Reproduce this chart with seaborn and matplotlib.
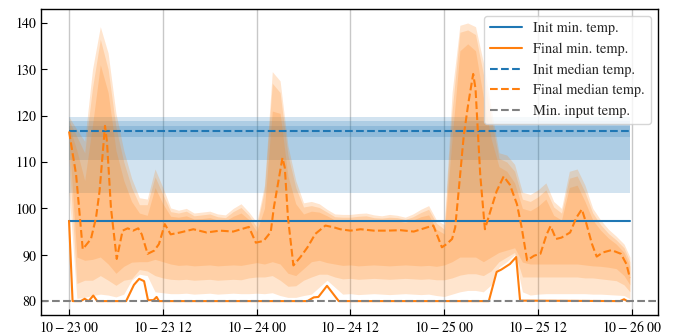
import numpy as np
import pandas as pd
import matplotlib
matplotlib.use("Agg")
import matplotlib.pyplot as plt
import matplotlib.dates as mdates
from matplotlib.ticker import FuncFormatter
import seaborn as sns

START = pd.Timestamp("2023-10-23 00:00")
END_HOUR = 71.75

# ---- initial (constant) statistics ----
init_min = 97.3
init_median = 116.7
init_bands = [(103.4, 119.7), (110.5, 118.9), (115.5, 117.8)]  # outer, middle, inner
min_input = 80.0

# ---- final quantile bands, hourly ----
band_hours = list(range(72)) + [END_HOUR]
outer_hi = [119.7, 117.0, 114.5, 130.0, 139.2, 133.5, 120.5, 112.5, 106.5, 102.3,
            102.0, 108.5, 104.5, 100.1, 99.6, 100.0, 99.0, 99.2, 99.4, 98.8,
            98.6, 100.0, 101.0, 99.2, 97.0, 105.0, 129.5, 127.5, 113.5, 106.0,
            101.2, 101.5, 101.0, 99.8, 98.8, 98.7, 98.7, 98.9, 99.0, 98.6,
            98.4, 98.7, 98.5, 98.1, 98.8, 99.8, 100.6, 97.5, 96.5, 125.0,
            139.5, 140.0, 139.2, 131.5, 121.5, 112.0, 111.5, 109.5, 103.5, 103.0,
            104.0, 105.5, 101.5, 100.0, 108.0, 108.5, 105.0, 100.0, 97.5, 95.5,
            94.0, 92.3, 89.5]
mid_hi = [118.9, 115.5, 112.0, 126.0, 136.5, 130.0, 117.5, 110.0, 104.5, 100.8,
          100.8, 106.8, 103.0, 99.3, 99.0, 99.4, 98.4, 98.6, 98.8, 98.2,
          98.0, 99.3, 100.2, 98.5, 96.0, 104.0, 127.0, 125.0, 111.5, 104.5,
          100.3, 100.6, 100.2, 99.2, 98.2, 98.1, 98.1, 98.3, 98.4, 98.0,
          97.9, 98.1, 98.0, 97.6, 98.2, 99.1, 99.8, 96.8, 95.5, 121.0,
          138.0, 138.5, 137.5, 129.0, 119.5, 110.8, 110.0, 108.0, 102.0, 101.5,
          102.5, 104.0, 100.3, 99.0, 106.5, 107.0, 103.5, 99.0, 96.5, 94.6,
          93.2, 91.5, 88.5]
in_hi = [117.8, 112.5, 106.0, 118.0, 131.0, 125.0, 112.5, 106.0, 101.5, 99.0,
         98.5, 104.5, 101.0, 98.3, 98.1, 98.4, 97.7, 97.8, 98.0, 97.5,
         97.3, 98.3, 99.0, 97.6, 95.0, 100.0, 121.0, 120.5, 107.0, 101.0,
         98.8, 99.4, 99.2, 98.4, 97.5, 97.4, 97.4, 97.6, 97.6, 97.3,
         97.2, 97.4, 97.3, 97.0, 97.5, 98.2, 98.6, 95.5, 94.5, 115.0,
         134.0, 135.5, 134.0, 124.0, 115.0, 109.0, 108.0, 105.5, 100.0, 99.5,
         100.5, 102.0, 98.5, 97.5, 104.5, 105.0, 101.5, 97.5, 95.3, 93.6,
         92.3, 90.5, 87.5]
in_lo = [115.5, 89.5, 88.8, 89.0, 89.5, 88.0, 86.0, 87.5, 88.4, 88.5,
         88.5, 89.0, 88.5, 88.0, 87.7, 87.8, 87.6, 87.7, 87.8, 87.6,
         87.7, 87.8, 87.7, 88.0, 88.3, 88.0, 88.5, 88.0, 86.0, 85.5,
         87.0, 88.5, 88.8, 88.3, 88.0, 87.7, 87.8, 87.6, 87.7, 87.8,
         87.7, 87.6, 87.7, 87.8, 87.7, 87.6, 87.7, 87.5, 87.8, 88.5,
         89.5, 89.5, 89.5, 88.5, 89.5, 90.5, 91.0, 91.5, 88.4, 88.0,
         88.0, 88.0, 88.0, 88.0, 88.0, 88.0, 87.8, 87.6, 87.5, 87.3,
         87.0, 85.5, 83.5]
mid_lo = [110.5, 83.8, 84.5, 84.5, 85.5, 84.5, 83.4, 84.5, 84.8, 86.8,
          86.5, 85.5, 85.0, 84.7, 84.6, 84.7, 84.5, 84.6, 84.7, 84.5,
          84.6, 84.7, 84.6, 85.0, 85.2, 85.2, 85.5, 84.5, 83.2, 83.3,
          84.5, 85.2, 85.8, 85.8, 85.2, 84.8, 84.9, 84.7, 84.8, 84.9,
          84.8, 84.7, 84.8, 84.9, 84.8, 84.7, 84.8, 84.6, 84.6, 85.0,
          85.6, 85.9, 85.9, 85.5, 86.5, 88.5, 89.5, 90.5, 85.2, 85.2,
          85.2, 85.2, 85.2, 85.2, 85.2, 85.2, 85.0, 85.0, 84.8, 84.6,
          84.4, 83.5, 82.0]
outer_lo = [103.4, 80.6, 80.8, 81.2, 81.5, 81.3, 80.9, 81.5, 84.5, 85.8,
            85.5, 82.0, 81.8, 81.6, 81.6, 81.7, 81.5, 81.6, 81.7, 81.5,
            81.6, 81.7, 81.6, 81.6, 81.7, 81.6, 81.8, 81.2, 80.8, 80.8,
            81.2, 81.5, 83.0, 84.5, 83.0, 81.5, 81.6, 81.4, 81.5, 81.6,
            81.5, 81.4, 81.5, 81.6, 81.5, 81.4, 81.5, 81.2, 81.0, 81.5,
            82.0, 82.3, 82.3, 82.0, 83.5, 87.3, 88.5, 90.0, 82.0, 81.3,
            81.5, 81.6, 81.6, 81.6, 81.6, 81.6, 81.6, 81.5, 81.5, 81.4,
            81.3, 81.2, 80.5]

# ---- final median temperature ----
median_hours = [0, 0.9, 1.75, 2.8, 3.45, 3.9, 4.6, 4.85, 5.36, 6.1, 6.85, 7.5, 8.2, 8.85,
                9.3, 10.05, 10.9, 11.5, 12.25, 13.0, 14.2, 15.9, 17.6, 19.3, 21.0, 23.0,
                23.9, 24.9, 25.8, 26.2, 27.3, 27.6, 28.0, 28.7, 29.6,
                30.5, 31.5, 32.8, 33.9, 34.7, 36.0, 37.3, 39.0, 40.7, 42.4, 44.1, 45.8,
                46.6, 47.7, 48.3, 49.0, 49.4, 49.8, 50.5, 51.1, 51.7, 52.0, 52.6, 53.2,
                53.9, 54.7, 55.6, 56.4, 57.3, 57.9, 58.6, 59.5, 60.3, 61.1, 61.6, 62.3,
                63.0, 64.1, 64.9, 65.6, 66.2, 66.9, 67.5, 68.3, 69.4, 70.6, 71.3, END_HOUR]
median_vals = [116.6, 107.3, 91.2, 93.4, 98.0, 103.7, 117.8, 114.4, 100.1, 89.1, 95.2, 95.7,
               95.2, 95.7, 94.4, 90.2, 90.9, 92.3, 96.6, 94.4, 94.8, 95.5, 94.8, 95.2,
               95.0, 96.0, 92.6, 93.0, 94.9, 100.2, 110.9, 108.8, 98.1, 87.7, 89.5,
               91.6, 94.5, 96.3, 95.9, 95.5, 95.2, 95.5, 95.2, 95.2, 95.3, 95.0, 95.9,
               96.3, 91.6, 92.3, 93.4, 95.9, 103.0, 115.8, 122.9, 129.0, 125.8, 107.3, 95.5,
               99.4, 103.7, 106.9, 105.1, 100.9, 95.9, 88.8, 89.8, 90.2, 94.4, 96.2, 93.4,
               93.7, 94.8, 98.0, 99.8, 96.6, 92.3, 89.6, 90.5, 91.0, 90.2, 88.0, 85.0]

# ---- final minimum temperature ----
min_hours = [0, 0.45, 1.5, 2.0, 2.5, 3.1, 3.6, 7.3, 8.3, 8.97, 9.6, 10.1, 10.8, 11.2, 11.5,
             30.5, 31.3, 31.9, 33.0, 34.5, 53.7, 54.7, 55.3, 56.4, 57.2, 57.7, 70.5, 71.0,
             71.4, END_HOUR]
min_vals = [97.3, 80.0, 80.0, 80.5, 80.0, 81.2, 80.0, 80.0, 83.5, 84.8, 84.3, 80.2, 80.2,
            80.9, 80.0, 80.0, 80.8, 80.9, 83.3, 80.0, 80.0, 86.3, 86.8, 88.0, 89.5, 80.1,
            80.0, 80.4, 80.0, 80.0]


def to_time(hours):
    return START + pd.to_timedelta(np.asarray(hours, dtype=float), unit="h")


sns.set_style("ticks")
plt.rcParams.update({
    "font.family": ["STIXGeneral", "DejaVu Serif"],
    "mathtext.fontset": "stix",
    "font.size": 10,
})

C0 = sns.color_palette("tab10")[0]
C1 = sns.color_palette("tab10")[1]

fig = plt.figure(figsize=(6.79, 3.36), dpi=100)
ax = fig.add_axes([0.0604, 0.0625, 0.9086, 0.9105])

tb = to_time(band_hours)
band_df = pd.DataFrame({"time": tb, "outer_lo": outer_lo, "outer_hi": outer_hi,
                        "mid_lo": mid_lo, "mid_hi": mid_hi,
                        "in_lo": in_lo, "in_hi": in_hi})

# init bands (constant over the horizon)
t_edges = to_time([band_hours[0], band_hours[-1]])
for lo, hi in init_bands:
    ax.fill_between(t_edges, [lo, lo], [hi, hi], color=C0, alpha=0.2, lw=0)

# final bands
for lo, hi in [("outer_lo", "outer_hi"), ("mid_lo", "mid_hi"), ("in_lo", "in_hi")]:
    ax.fill_between(band_df["time"], band_df[lo], band_df[hi], color=C1, alpha=0.2, lw=0)

init_df = pd.DataFrame({"time": t_edges, "min": [init_min] * 2, "median": [init_median] * 2})
med_df = pd.DataFrame({"time": to_time(median_hours), "v": median_vals})
min_df = pd.DataFrame({"time": to_time(min_hours), "v": min_vals})

sns.lineplot(data=init_df, x="time", y="min", ax=ax, color=C0, lw=1.5, label="Init min. temp.")
sns.lineplot(data=min_df, x="time", y="v", ax=ax, color=C1, lw=1.5, label="Final min. temp.")
sns.lineplot(data=init_df, x="time", y="median", ax=ax, color=C0, lw=1.5, ls="--",
             label="Init median temp.")
sns.lineplot(data=med_df, x="time", y="v", ax=ax, color=C1, lw=1.5, ls="--",
             label="Final median temp.")
ax.axhline(min_input, color="gray", lw=1.5, ls="--", label="Min. input temp.")

ax.set_xlabel("")
ax.set_ylabel("")
ax.set_yticks([80, 90, 100, 110, 120, 130, 140])
ax.xaxis.set_major_locator(mdates.HourLocator(byhour=[0, 12]))


def fmt(x, pos):
    d = mdates.num2date(x)
    return r"$\mathdefault{%02d-%02d\ %02d}$" % (d.month, d.day, d.hour)


ax.xaxis.set_major_formatter(FuncFormatter(fmt))
ax.margins(x=0.05, y=0.05)
ax.grid(axis="x", color="#c8c8c8", lw=1.0)
ax.grid(axis="y", visible=False)
ax.tick_params(direction="in", length=4, labelsize=10, colors="black")
for s in ax.spines.values():
    s.set_color("black")
    s.set_linewidth(1.0)

ax.legend(loc="upper right", fontsize=10.4, handlelength=2.2, framealpha=0.8, fancybox=True)

fig.savefig("out.png", dpi=100)
